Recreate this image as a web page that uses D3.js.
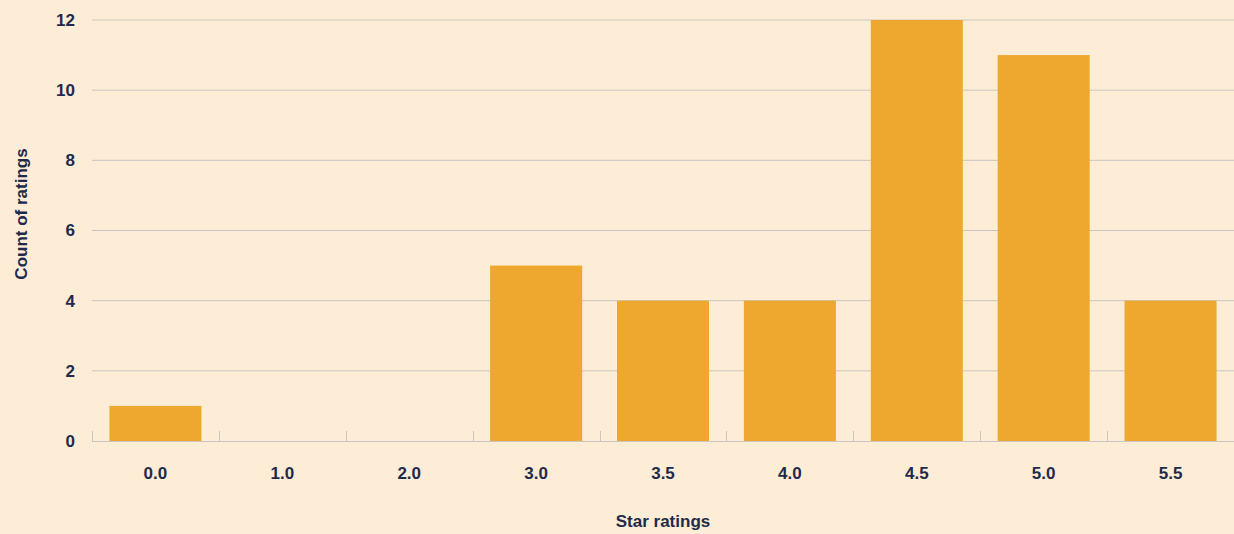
<!DOCTYPE html>
<html>
<head>
<meta charset="utf-8">
<script src="https://cdn.jsdelivr.net/npm/d3@7"></script>
<style>
  html, body { margin: 0; padding: 0; background: #fdecd6; }
  svg text { font-family: 'Liberation Sans', Arial, sans-serif; font-weight: bold; fill: #1f2a4b; }
</style>
</head>
<body>
<svg id="chart" width="1234" height="534"></svg>
<script>
const ratings = ['0.0', '1.0', '2.0', '3.0', '3.5', '4.0', '4.5', '5.0', '5.5'];
const counts = [1, 0, 0, 5, 4, 4, 12, 11, 4];
const yTicks = [0, 2, 4, 6, 8, 10, 12];

const margin = { top: 20, right: 0, bottom: 93, left: 92 };
const width = 1234 - margin.left - margin.right;
const height = 534 - margin.top - margin.bottom;

const svg = d3.select('#chart');
svg.append('rect').attr('width', 1234).attr('height', 534).attr('fill', '#fdecd6');

const x = d3.scaleBand()
  .domain(ratings)
  .range([0, width])
  .paddingInner(0.275)
  .paddingOuter(0.1375);
const y = d3.scaleLinear().domain([0, 12]).range([height, 0]);

const g = svg.append('g')
  .attr('transform', 'translate(' + margin.left + ',' + margin.top + ')');

// grid
g.selectAll('.grid')
  .data(yTicks.filter(d => d > 0))
  .enter()
  .append('line')
  .attr('x1', 0)
  .attr('x2', width)
  .attr('y1', d => y(d))
  .attr('y2', d => y(d))
  .attr('stroke', '#c9c6c3')
  .attr('stroke-width', 1);

// y labels
g.selectAll('.ylab')
  .data(yTicks)
  .enter()
  .append('text')
  .attr('x', -17)
  .attr('y', d => y(d))
  .attr('dy', '0.35em')
  .attr('text-anchor', 'end')
  .style('font-size', '17px')
  .text(d => d);

// bars
g.selectAll('.bar')
  .data(counts)
  .enter()
  .append('rect')
  .attr('x', (d, i) => x(ratings[i]))
  .attr('width', x.bandwidth())
  .attr('y', d => y(d))
  .attr('height', d => height - y(d))
  .attr('fill', '#eea72f');

// x axis baseline and tick marks at band edges
const step = x.step();
const edges = ratings.map(r => x(r) - step * 0.1375);
g.append('line')
  .attr('x1', 0).attr('x2', width)
  .attr('y1', height + 0.5).attr('y2', height + 0.5)
  .attr('stroke', '#c9c6c3');
g.selectAll('.tick')
  .data(edges)
  .enter()
  .append('line')
  .attr('x1', d => Math.round(d) + 0.5)
  .attr('x2', d => Math.round(d) + 0.5)
  .attr('y1', height - 10)
  .attr('y2', height)
  .attr('stroke', '#c9c6c3');

// x labels
g.selectAll('.xlab')
  .data(ratings)
  .enter()
  .append('text')
  .attr('x', d => x(d) + x.bandwidth() / 2)
  .attr('y', height + 38)
  .attr('text-anchor', 'middle')
  .style('font-size', '17px')
  .text(d => d);

// axis titles
svg.append('text')
  .attr('x', 663)
  .attr('y', 527)
  .attr('text-anchor', 'middle')
  .style('font-size', '17px')
  .text('Star ratings');

svg.append('text')
  .attr('transform', 'translate(27,214) rotate(-90)')
  .attr('text-anchor', 'middle')
  .style('font-size', '17px')
  .text('Count of ratings');
</script>
</body>
</html>
